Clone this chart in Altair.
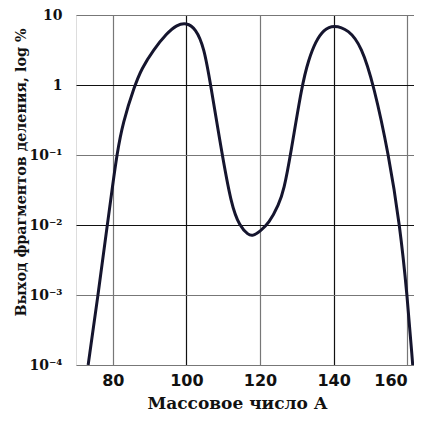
import altair as alt
import pandas as pd

# Mass number A and log10 of fission fragment yield (%)
mass_number = [73.3, 76.0, 78.5, 80.0, 81.1, 82.7, 86.0, 87.8, 91.0, 94.7, 97.4, 100.0,
               102.5, 104.8, 106.6, 109.4, 112.2, 114.5, 116.8, 118.0,
               120.0, 122.4, 125.1, 126.5, 128.3, 131.4, 133.2, 135.1, 137.3, 140.0,
               144.1, 147.6, 150.9, 155.0, 158.0, 160.0, 161.5]
log_yield = [-4.0, -3.0, -2.0, -1.42, -1.0, -0.54, 0.0, 0.23, 0.50, 0.74, 0.86, 0.89,
             0.81, 0.54, 0.0, -0.9, -1.72, -2.02, -2.14, -2.16,
             -2.09, -1.98, -1.71, -1.5, -1.0, 0.0, 0.36, 0.62, 0.79, 0.86,
             0.79, 0.55, 0.0, -1.0, -2.0, -3.0, -4.0]

x_ticks = [80, 100, 120, 140, 160]
y_ticks = [1e-4, 1e-3, 1e-2, 1e-1, 1, 10]

df = pd.DataFrame({"A": mass_number, "Y": [10 ** v for v in log_yield]})

label_expr = (
    "round(log(datum.value)/LN10) == 1 ? '10' : "
    "round(log(datum.value)/LN10) == 0 ? '1' : "
    "round(log(datum.value)/LN10) == -1 ? '10⁻¹' : "
    "round(log(datum.value)/LN10) == -2 ? '10⁻²' : "
    "round(log(datum.value)/LN10) == -3 ? '10⁻³' : '10⁻⁴'"
)

chart = alt.Chart(df).mark_line(
    color="#15152e", strokeWidth=3, interpolate="basis", clip=True
).encode(
    x=alt.X("A:Q",
            scale=alt.Scale(domain=[70, 161.85], nice=False, zero=False),
            axis=alt.Axis(values=x_ticks, title="Массовое число А",
                          grid=True, domain=False, ticks=False,
                          gridColor=alt.condition("datum.value == 100 || datum.value == 140",
                                                  alt.value("#111111"), alt.value("#777777")),
                          gridWidth=1.2,
                          labelFont="DejaVu Sans", labelFontWeight="bold",
                          labelFontSize=16, labelColor="#111111", labelPadding=7,
                          labelBaseline="top", labelFlush=10,
                          titleFont="DejaVu Serif", titleFontWeight="bold",
                          titleFontSize=17, titleColor="#111111",
                          titleX=161, titleY=43, titleBaseline="alphabetic",
                          titleAlign="center")),
    y=alt.Y("Y:Q",
            scale=alt.Scale(type="log", domain=[1e-4, 10], nice=False),
            axis=alt.Axis(values=y_ticks, labelExpr=label_expr,
                          title="Выход фрагментов деления, log %",
                          grid=True, domain=False, ticks=False,
                          gridColor=alt.condition("datum.value > 0.5 && datum.value < 2 || datum.value > 0.005 && datum.value < 0.02",
                                                  alt.value("#111111"), alt.value("#777777")),
                          gridWidth=1.2,
                          labelFont="DejaVu Serif", labelFontWeight="bold",
                          labelFontSize=14, labelColor="#111111", labelPadding=14,
                          titleFont="DejaVu Serif", titleFontWeight="bold",
                          titleFontSize=14.3, titleColor="#111111",
                          titleAngle=-90, titleX=-55, titleY=157,
                          titleAlign="center", titleBaseline="middle")),
).properties(
    width=338, height=350,
    autosize=alt.AutoSizeParams(type="none"),
    padding={"left": 68, "top": 7, "right": 0, "bottom": 48},
).configure_view(
    stroke="#555555", strokeWidth=1.5
).configure(background="white")

chart.save("out.html", embed_options={"renderer": "svg", "actions": False})
